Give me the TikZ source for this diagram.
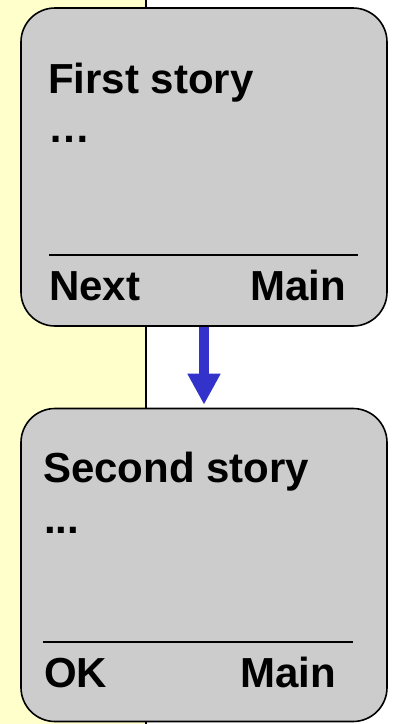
\documentclass[tikz,border=0pt]{standalone}
\usepackage{fontspec}
\setmainfont{Liberation Sans}
\usetikzlibrary{arrows.meta}
\definecolor{panelyellow}{HTML}{FFFFCC}
\definecolor{screengray}{HTML}{CCCCCC}
\definecolor{flowblue}{HTML}{3333CC}
\begin{document}
\begin{tikzpicture}[x=1pt,y=-1pt,
  screen/.style={draw=black, fill=screengray, line width=1.6pt, rounded corners=34pt,
    minimum width=366pt, inner sep=0pt},
  label/.style={inner sep=0pt, font=\fontsize{42}{50}\selectfont\bfseries},
  rule/.style={line width=2pt},
  flow/.style={draw=flowblue, line width=10pt,
    -{Triangle[length=31pt 0 0, width=31pt 0 0]}, shorten >=3pt}]
  \useasboundingbox (0,0) rectangle (392,724);
  \fill[white] (0,0) rectangle (392,724);
  % side panel and its border
  \fill[panelyellow] (0,0) rectangle (146,724);
  \draw[line width=2pt] (146,0) -- (146,724);
  % screens
  \node[screen, minimum height=318pt] (s1) at (204,167) {};
  \node[screen, minimum height=313pt] (s2) at (204,565) {};
  % first screen contents
  \node[label, anchor=base west] (t1) at (48,93) {First story};
  \node[label, anchor=base west] (d1) at (48,142) {…};
  \draw[rule] (49,255) coordinate (r1a) -- (358,255) coordinate (r1b);
  \node[label, anchor=base west] (n1) at (49,300) {Next};
  \node[label, anchor=base east] (m1) at (346,300) {Main};
  % second screen contents
  \node[label, anchor=base west] (t2) at (43,482) {Second story};
  \node[label, anchor=base west] (d2) at (44,533) {...};
  \draw[rule] (43,642) coordinate (r2a) -- (353,642) coordinate (r2b);
  \node[label, anchor=base west] (o2) at (44,687) {OK};
  \node[label, anchor=base east] (m2) at (336,687) {Main};
  % transition
  \draw[flow] (s1.south) -- (s2.north);
\end{tikzpicture}
\end{document}
